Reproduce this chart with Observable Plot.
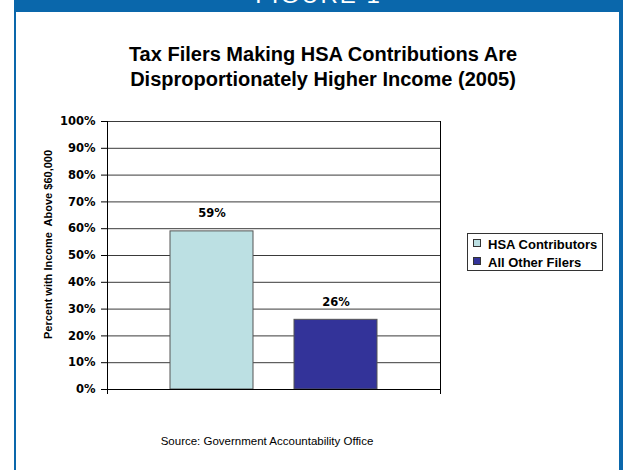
<!DOCTYPE html>
<html>
<head>
<meta charset="utf-8">
<script src="https://cdn.jsdelivr.net/npm/d3@7"></script>
<script src="https://cdn.jsdelivr.net/npm/@observablehq/plot@0.6"></script>
<style>
  html, body { margin: 0; padding: 0; background: #fff; overflow: hidden; }
  #page { position: relative; width: 623px; height: 470px; overflow: hidden; background: #fff; font-family: "Liberation Sans", Arial, sans-serif; }
  #chart { position: absolute; left: 0; top: 0; }
  #chart svg { max-width: none; }
  .blue { position: absolute; background: #0A67AB; }
  #fig { position: absolute; left: 14px; width: 609px; top: -17px; height: 24px; line-height: 24px; text-align: center; color: #fff; font-size: 24px; letter-spacing: 2px; }
  #title { position: absolute; left: 23px; width: 600px; top: 42px; text-align: center; font-weight: bold; font-size: 20px; line-height: 25px; color: #000; }
  #source { position: absolute; left: 67px; width: 400px; top: 434px; text-align: center; font-size: 11.5px; line-height: 14px; color: #000; }
  #legend { position: absolute; left: 467px; top: 233px; width: 134px; height: 36px; border: 1px solid #333; background: #fff; }
  .row { position: relative; height: 17.5px; line-height: 17.5px; font-size: 13px; font-weight: bold; color: #000; white-space: nowrap; }
  .row:first-child { margin-top: 2px; }
  .sw { position: absolute; left: 5px; top: 3px; width: 6px; height: 6px; border: 1px solid #333; }
  .lt { position: absolute; left: 20px; top: 0; }
</style>
</head>
<body>
<div id="page">
  <div id="chart"></div>
  <div class="blue" style="left:14px; top:0; width:609px; height:12px;"></div>
  <div id="fig"></div>
  <div class="blue" style="left:14px; top:0; width:2px; height:470px;"></div>
  <div class="blue" style="left:619px; top:0; width:4px; height:470px;"></div>
  <div id="title"></div>
  <div id="legend"></div>
  <div id="source"></div>
</div>
<script>
const figureLabel = "FIGURE 1";
const titleLines = ["Tax Filers Making HSA Contributions Are", "Disproportionately Higher Income (2005)"];
const yAxisTitle = "Percent with Income  Above $60,000";
const sourceText = "Source: Government Accountability Office";
const categories = ["HSA Contributors", "All Other Filers"];
const values = [59, 26];
const valueLabels = ["59%", "26%"];
const barColors = ["#BCE0E3", "#333399"];
const yTicks = [0, 10, 20, 30, 40, 50, 60, 70, 80, 90, 100];
const yTickLabels = ["0%", "10%", "20%", "30%", "40%", "50%", "60%", "70%", "80%", "90%", "100%"];

const data = categories.map((c, i) => ({category: c, value: values[i], label: valueLabels[i]}));

document.getElementById("fig").textContent = figureLabel;
document.getElementById("title").innerHTML = titleLines.map(t => `<div>${t}</div>`).join("");
document.getElementById("source").textContent = sourceText;
document.getElementById("legend").innerHTML = categories.map((c, i) =>
  `<div class="row"><span class="sw" style="background:${barColors[i]}"></span><span class="lt">${c}</span></div>`).join("");

const chart = Plot.plot({
  width: 623,
  height: 470,
  marginLeft: 107,
  marginRight: 183,
  marginTop: 121,
  marginBottom: 81,
  style: {background: "transparent", fontFamily: "DejaVu Sans", fontSize: "11.5px", fontWeight: "bold", color: "#000", overflow: "visible"},
  x: {domain: categories, paddingInner: 1/3, paddingOuter: 0.5, axis: null},
  y: {domain: [0, 100], axis: null},
  color: {domain: categories, range: barColors},
  marks: [
    Plot.ruleY(yTicks.filter(d => d > 0), {stroke: "#3a3a3a", strokeWidth: 1}),
    Plot.barY(data, {x: "category", y: "value", fill: "category", stroke: "#555", strokeWidth: 1}),
    Plot.ruleY([0], {stroke: "#000"}),
    Plot.frame({anchor: "left", insetBottom: -4, stroke: "#000"}),
    Plot.frame({anchor: "right", insetBottom: -4, stroke: "#000"}),
    Plot.axisY({ticks: yTicks, tickFormat: (d) => yTickLabels[yTicks.indexOf(d)], tickSize: 6, tickPadding: 6, label: null}),
    Plot.text(data, {x: "category", y: "value", text: "label", dy: -18}),
    Plot.text([yAxisTitle], {frameAnchor: "left", textAnchor: "middle", lineAnchor: "middle", rotate: -90, dx: -59.5, dy: -11, fontFamily: "Liberation Sans", fontSize: 11, fontWeight: "bold"})
  ]
});
document.getElementById("chart").appendChild(chart);
</script>
</body>
</html>
